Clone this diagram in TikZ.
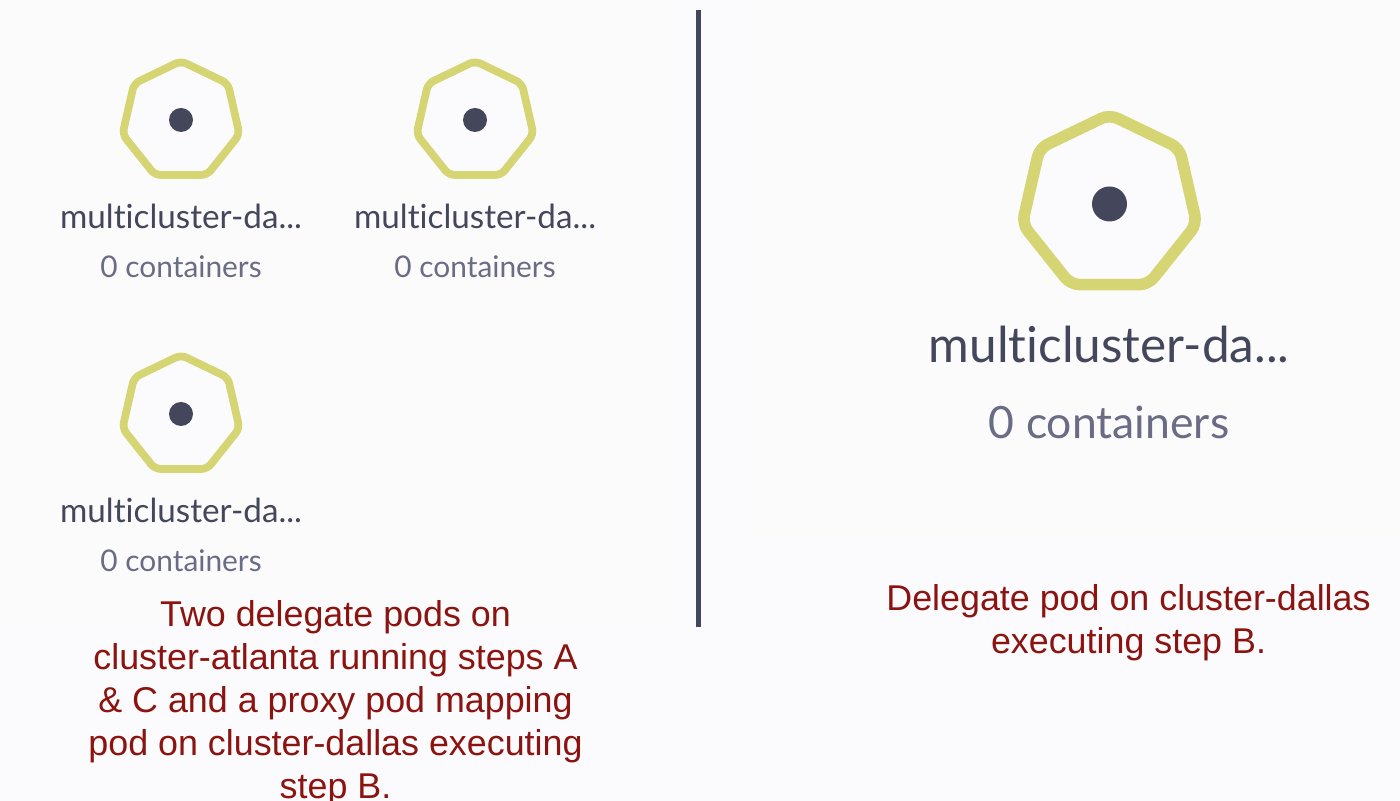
\documentclass[tikz,border=0pt]{standalone}
\usepackage{fontspec}
\setmainfont{Lato}[RawFeature={-liga}]
\newfontfamily\captionfont{Liberation Sans}
\usetikzlibrary{shapes.geometric}
\definecolor{pagebg}{HTML}{FBFBFE}
\definecolor{panelbg}{HTML}{FBFBFC}
\definecolor{podring}{HTML}{D6D574}
\definecolor{podink}{HTML}{44465C}
\definecolor{podgrey}{HTML}{6A6B85}
\definecolor{capred}{HTML}{8B1410}
\tikzset{
  ringsmall/.style={regular polygon, regular polygon sides=7, draw=podring, fill=pagebg, line width=2.2pt, minimum size=1.2cm, inner sep=0pt, rounded corners=0.06cm},
  ringlarge/.style={regular polygon, regular polygon sides=7, draw=podring, fill=pagebg, line width=3.3pt, minimum size=1.79cm, inner sep=0pt, rounded corners=0.09cm},
  dotsmall/.style={circle, fill=podink, minimum size=0.24cm, inner sep=0pt},
  dotlarge/.style={circle, fill=podink, minimum size=0.35cm, inner sep=0pt},
  namesmall/.style={text=podink, font=\fontsize{9.45}{11}\selectfont, inner sep=0pt},
  countsmall/.style={text=podgrey, font=\fontsize{8.5}{10}\selectfont, inner sep=0pt},
  namelarge/.style={text=podink, font=\fontsize{14.08}{17}\selectfont, inner sep=0pt},
  countlarge/.style={text=podgrey, font=\fontsize{12.67}{15}\selectfont, inner sep=0pt},
  captext/.style={text=capred, font=\captionfont\fontsize{10.2}{12.2}\selectfont, align=center, inner sep=0pt}
}
\begin{document}
\begin{tikzpicture}[x=1cm,y=1cm]
    \useasboundingbox (0, 0) rectangle (14, -8.01);
    \fill[pagebg] (0, 0) rectangle (14, -8.01);
    \fill[panelbg] (0, 0) rectangle (6.7, -6.25);
    \fill[panelbg] (7.43, 0) rectangle (14, -5.4);

    \foreach \n/\x/\y in {a/1.81/-1.2,b/4.75/-1.2,c/1.81/-4.14}
      {
        \node[ringsmall] (ring\n) at (\x, \y-0.01) {};
        \node[dotsmall] (dot\n) at (\x, \y) {};
        \node[namesmall] (name\n) at (\x, \y-0.96) {multicluster-da...};
        \node[countsmall] (count\n) at (\x, \y-1.47) {0 containers};
      }

    \node[ringlarge] (ringd) at (11.095, -2.04) {};
    \node[dotlarge] (dotd) at (11.095, -2.04) {};
    \node[namelarge] (named) at (11.09, -3.44) {multicluster-da...};
    \node[countlarge] (countd) at (11.09, -4.22) {0 containers};

    \coordinate (divtop) at (6.985, -0.1);
    \coordinate (divbot) at (6.985, -6.27);
    \draw[podink, line width=1.7pt] (divtop) -- (divbot);

    \node[captext] (capleft) at (3.355, -7.03) {Two delegate pods on\\cluster-atlanta running steps A\\\& C and a proxy pod mapping\\pod on cluster-dallas executing\\step B.};
    \node[captext] (capright) at (11.285, -6.23) {Delegate pod on cluster-dallas\\executing step B.};
\end{tikzpicture}
\end{document}
